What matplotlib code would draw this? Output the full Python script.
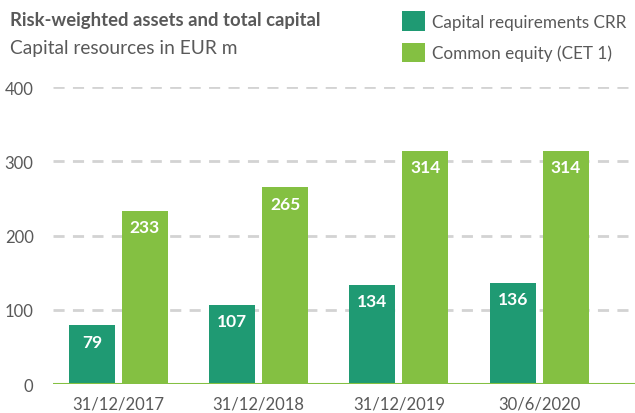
import numpy as np
import matplotlib.pyplot as plt

# chart data
dates = ['31/12/2017', '31/12/2018', '31/12/2019', '30/6/2020']
crr = [79, 107, 134, 136]
cet1 = [233, 265, 314, 314]
yticks = [0, 100, 200, 300, 400]

dark_green = '#1F9A73'
light_green = '#84C042'
grey = '#595959'
plt.rcParams['font.family'] = ['Lato', 'DejaVu Sans']

fig = plt.figure(figsize=(6.35, 4.14), dpi=100)
ax = fig.add_axes([0.0835, 0.07, 0.9165, 0.7174])

x = np.arange(len(dates))
w = 0.328
off = 0.189
b1 = ax.bar(x - off, crr, w, color=dark_green, label='Capital requirements CRR', zorder=3)
b2 = ax.bar(x + off, cet1, w, color=light_green, label='Common equity (CET 1)', zorder=3)

for bars in (b1, b2):
    for r in bars:
        ax.annotate(f'{r.get_height():.0f}', (r.get_x() + r.get_width() / 2, r.get_height()),
                    xytext=(0, -6), textcoords='offset points', ha='center', va='top',
                    color='white', fontsize=12.5, fontweight='bold', zorder=4)

ax.set_xlim(-0.467, 3.684)
ax.set_ylim(0, 400)
ax.set_yticks(yticks)
ax.set_xticks(x, dates)
ax.grid(axis='y', color='#D3D3D3', linestyle=(0, (4, 3)), linewidth=2, zorder=0)
ax.axhline(0, color=light_green, linewidth=2.2, zorder=5)
for s in ax.spines.values():
    s.set_visible(False)
ax.tick_params(length=0, labelsize=12, labelcolor=grey)
ax.tick_params(axis='y', pad=14)
ax.tick_params(axis='x', pad=8)

fig.text(0.016, 0.95, 'Risk-weighted assets and total capital', fontsize=13.3,
         fontweight='bold', color=grey, va='center')
fig.text(0.016, 0.884, 'Capital resources in EUR m', fontsize=13.8, color=grey, va='center')

fig.legend(loc='upper left', bbox_to_anchor=(0.633, 0.97), frameon=False,
           fontsize=12.3, labelcolor=grey, handlelength=1.35, handleheight=1.35,
           handletextpad=0.4, labelspacing=0.7, borderaxespad=0, borderpad=0)

fig.savefig('out.png', dpi=100)
